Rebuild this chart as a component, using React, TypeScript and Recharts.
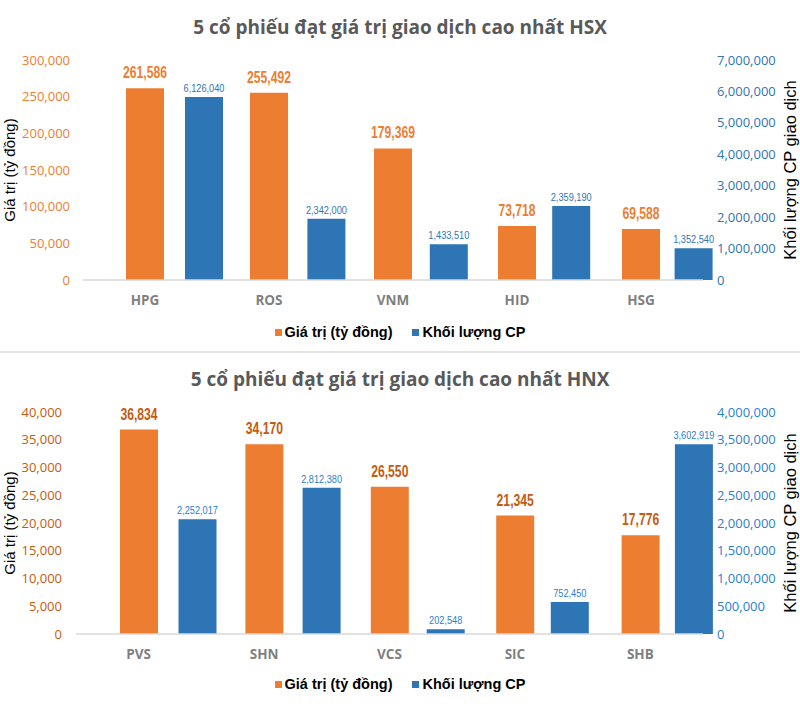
import { BarChart, Bar, XAxis, YAxis, LabelList, Legend } from 'recharts';

// HSX
const hsxMa = ['HPG', 'ROS', 'VNM', 'HID', 'HSG'];
const hsxGiaTri = [261586, 255492, 179369, 73718, 69588];
// bar heights as drawn in the picture
const hsxKhoiLuong = [5820000, 1950000, 1140000, 2355000, 1010000];
// labels as printed in the picture
const hsxNhanKL = ['6,126,040', '2,342,000', '1,433,510', '2,359,190', '1,352,540'];
const hsxTickTrai = [0, 50000, 100000, 150000, 200000, 250000, 300000];
const hsxTickPhai = [0, 1000000, 2000000, 3000000, 4000000, 5000000, 6000000, 7000000];

// HNX
const hnxMa = ['PVS', 'SHN', 'VCS', 'SIC', 'SHB'];
const hnxGiaTri = [36834, 34170, 26550, 21345, 17776];
const hnxKhoiLuong = [2067000, 2636000, 85000, 577000, 3418000];
const hnxNhanKL = ['2,252,017', '2,812,380', '202,548', '752,450', '3,602,919'];
const hnxTickTrai = [0, 5000, 10000, 15000, 20000, 25000, 30000, 35000, 40000];
const hnxTickPhai = [0, 500000, 1000000, 1500000, 2000000, 2500000, 3000000, 3500000, 4000000];

const CAM = '#ED7D31';
const XANH = '#2E75B6';
const OPEN = "'Open Sans', sans-serif";
const ARIAL = "'Liberation Sans', Arial, sans-serif";

const fmt = (v: any) => (typeof v === 'number' ? v.toLocaleString('en-US') : String(v));

// condensed label (the original uses Arial Narrow)
const nhan = (fill: string, size: number, bold: boolean, offset: number, sx: number) => (props: any) => {
  const vb = props.viewBox || {};
  const x = Number(props.x ?? vb.x);
  const y = Number(props.y ?? vb.y);
  const w = Number(props.width ?? vb.width);
  const cx = x + w / 2;
  const cy = y - offset;
  return (
    <text
      transform={`translate(${cx},${cy}) scale(${sx},1)`}
      textAnchor="middle"
      fill={fill}
      fontSize={size}
      fontWeight={bold ? 'bold' : 'normal'}
      fontFamily={ARIAL}
    >
      {fmt(props.value)}
    </text>
  );
};

const renderLegend = (props: any) => (
  <div
    style={{
      display: 'flex',
      justifyContent: 'center',
      alignItems: 'center',
      height: 20,
      gap: 20,
      fontFamily: ARIAL,
      fontWeight: 'bold',
      fontSize: 14.5,
      color: '#000',
    }}
  >
    {(props.payload || []).map((e: any) => (
      <span key={e.value} style={{ display: 'flex', alignItems: 'center' }}>
        <span style={{ width: 7, height: 7, background: e.color, marginRight: 3 }} />
        {e.value}
      </span>
    ))}
  </div>
);

interface BieuDoProps {
  title: string;
  ma: string[];
  giaTri: number[];
  khoiLuong: number[];
  nhanKL: string[];
  tickTrai: number[];
  tickPhai: number[];
  height: number;
  top: number;
  bottom: number;
  xHeight: number;
  leftWidth: number;
  leftMargin: number;
  leftColor: string;
  labelColor: string;
  rightColor: string;
  titleY: number;
  klPad: { left: number; right: number };
}

function BieuDo(p: BieuDoProps) {
  const data = p.ma.map((m, i) => ({
    ma: m,
    giaTri: p.giaTri[i],
    khoiLuong: p.khoiLuong[i],
    nhanKL: p.nhanKL[i],
  }));
  return (
    <div style={{ position: 'relative', width: 800, height: p.height }}>
      <div
        style={{
          position: 'absolute',
          top: p.titleY,
          left: 0,
          width: 800,
          textAlign: 'center',
          fontFamily: OPEN,
          fontWeight: 'bold',
          fontSize: 19,
          lineHeight: '26px',
          color: '#595959',
        }}
      >
        {p.title}
      </div>
      <BarChart
        width={800}
        height={p.height}
        data={data}
        margin={{ top: p.top, right: 0, bottom: p.bottom, left: 0 }}
      >
        <XAxis
          xAxisId="gt"
          dataKey="ma"
          height={p.xHeight}
          axisLine={{ stroke: '#D9D9D9', strokeWidth: 1.5 }}
          tickLine={false}
          tickMargin={9}
          tick={{ fill: '#7F7F7F', fontSize: 13.5, fontWeight: 'bold', fontFamily: OPEN }}
        />
        <XAxis xAxisId="kl" dataKey="ma" hide padding={p.klPad} />
        <YAxis
          yAxisId="trai"
          orientation="left"
          width={p.leftWidth}
          domain={[p.tickTrai[0], p.tickTrai[p.tickTrai.length - 1]]}
          ticks={p.tickTrai}
          tickFormatter={fmt}
          axisLine={false}
          tickLine={false}
          tickMargin={p.leftMargin}
          tick={{ fill: p.leftColor, fontSize: 13, fontFamily: OPEN }}
          label={{
            value: 'Giá trị (tỷ đồng)',
            angle: -90,
            position: 'insideLeft',
            offset: 10,
            style: { textAnchor: 'middle', fill: '#000', fontSize: 15, fontFamily: ARIAL },
          }}
        />
        <YAxis
          yAxisId="phai"
          orientation="right"
          width={97}
          domain={[p.tickPhai[0], p.tickPhai[p.tickPhai.length - 1]]}
          ticks={p.tickPhai}
          tickFormatter={fmt}
          axisLine={false}
          tickLine={false}
          tickMargin={8}
          tick={{ fill: p.rightColor, fontSize: 13, fontFamily: OPEN }}
          label={{
            value: 'Khối lượng CP giao dịch',
            angle: -90,
            position: 'insideRight',
            offset: 10,
            style: { textAnchor: 'middle', fill: '#000', fontSize: 16.5, fontFamily: ARIAL },
          }}
        />
        <Legend verticalAlign="bottom" content={renderLegend} />
        <Bar
          xAxisId="gt"
          yAxisId="trai"
          dataKey="giaTri"
          name="Giá trị (tỷ đồng)"
          fill={CAM}
          barSize={38}
          isAnimationActive={false}
        >
          <LabelList dataKey="giaTri" position="top" content={nhan(p.labelColor, 16, true, 10, 0.76)} />
        </Bar>
        <Bar
          xAxisId="kl"
          yAxisId="phai"
          dataKey="khoiLuong"
          name="Khối lượng CP"
          fill={XANH}
          barSize={38}
          isAnimationActive={false}
        >
          <LabelList dataKey="nhanKL" position="top" content={nhan(p.rightColor, 11.5, false, 5, 0.8)} />
        </Bar>
      </BarChart>
    </div>
  );
}

export default function App() {
  return (
    <div style={{ width: 800, height: 724, background: '#fff' }}>
      <style>{'body{margin:0}'}</style>
      <BieuDo
        title="5 cổ phiếu đạt giá trị giao dịch cao nhất HSX"
        ma={hsxMa}
        giaTri={hsxGiaTri}
        khoiLuong={hsxKhoiLuong}
        nhanKL={hsxNhanKL}
        tickTrai={hsxTickTrai}
        tickPhai={hsxTickPhai}
        height={351}
        top={60}
        bottom={9}
        xHeight={42}
        leftWidth={83}
        leftMargin={7}
        leftColor={CAM}
        labelColor={CAM}
        rightColor={XANH}
        titleY={14}
        klPad={{ left: 60, right: -52 }}
      />
      <div style={{ height: 2, background: '#E4E4E4' }} />
      <BieuDo
        title="5 cổ phiếu đạt giá trị giao dịch cao nhất HNX"
        ma={hnxMa}
        giaTri={hnxGiaTri}
        khoiLuong={hnxKhoiLuong}
        nhanKL={hnxNhanKL}
        tickTrai={hnxTickTrai}
        tickPhai={hnxTickPhai}
        height={371}
        top={59}
        bottom={30}
        xHeight={40}
        leftWidth={76}
        leftMargin={8}
        leftColor="#C55A11"
        labelColor="#C55A11"
        rightColor="#2A80CF"
        titleY={13}
        klPad={{ left: 59.5, right: -53 }}
      />
    </div>
  );
}
